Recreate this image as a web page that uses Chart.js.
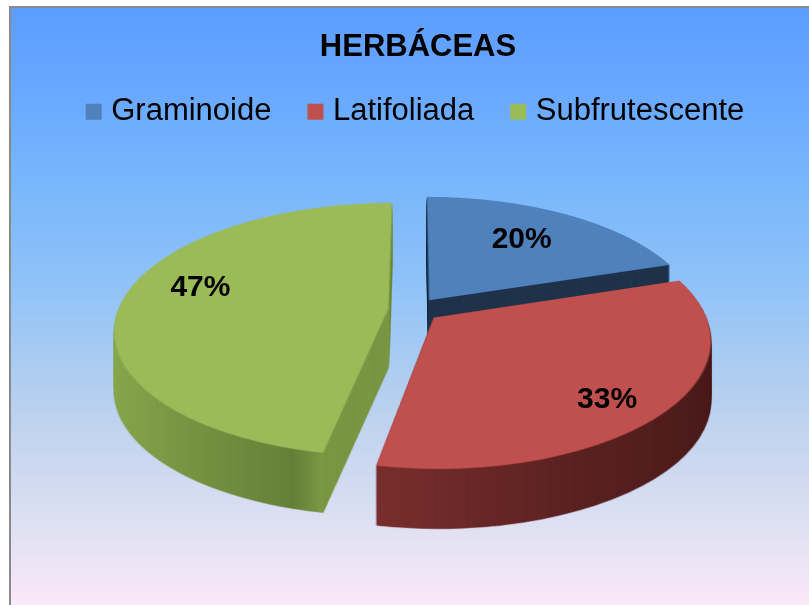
<!DOCTYPE html>
<html lang="pt-BR">
<head>
<meta charset="utf-8">
<title>HERBÁCEAS</title>
<script src="https://cdn.jsdelivr.net/npm/chart.js@4.4.1/dist/chart.umd.min.js"></script>
<style>
    html, body { margin: 0; padding: 0; background: #fff; }
    #wrap { position: relative; width: 809px; height: 605px; }
</style>
</head>
<body>
<div id="wrap"><canvas id="graficoHerbaceas"></canvas></div>
<script>
// Dados
const categorias = ["Graminoide", "Latifoliada", "Subfrutescente"];
const percentuais = [20, 33, 47];

// Estilo
const cores = ["#4f81bd", "#c0504d", "#9bbb59"];
const lateral = [
    [[0, "#1f334b"], [1, "#1f334b"]],
    [[0, "#7a302f"], [0.44, "#7a302f"], [0.72, "#5c2323"], [1, "#4a1c1c"]],
    [[0, "#8cac50"], [0.33, "#66813a"], [0.37, "#7b9846"], [1, "#7b9846"]]
];
const labelRadius = [0.65, 0.8, 0.72];
const labelAjuste = [[0, -2], [-8, 9], [3, -13]];
const ordem = [0, 2, 1];

// perspectiva da pizza 3D
const CX = 414, CY = 310, RX = 270, RY = 123.5, TILT = 0.165, DEPTH = 60, EXPLODE = 0.096;

const fundo = {
    id: "fundo",
    beforeDraw(chart) {
        const ctx = chart.ctx;
        const w = chart.width, h = chart.height;
        ctx.save();
        ctx.fillStyle = "#fff";
        ctx.fillRect(0, 0, w, h);
        ctx.fillStyle = "#8a8a8a";
        ctx.fillRect(9, 6, w - 9, 2);
        ctx.fillRect(9, 6, 2, h - 6);
        const g = ctx.createLinearGradient(0, 8, 0, h);
        g.addColorStop(0, "#5c9cff");
        g.addColorStop(0.16, "#6aaaff");
        g.addColorStop(0.29, "#78b6fb");
        g.addColorStop(0.46, "#8fc2f8");
        g.addColorStop(0.66, "#b8d0ee");
        g.addColorStop(0.89, "#e3e2f3");
        g.addColorStop(1, "#fbe8f8");
        ctx.fillStyle = g;
        ctx.fillRect(11, 8, w - 11, h - 8);
        ctx.restore();
    }
};

const pizza3d = {
    id: "pizza3d",
    beforeDatasetsDraw(chart) {
        const ctx = chart.ctx;
        const arcs = chart.getDatasetMeta(0).data;
        const R = arcs[0].outerRadius;
        const S = Math.ceil(2 * R * (1 + EXPLODE)) + 8;
        const SS = 2;
        const W = chart.width * SS, H = chart.height * SS;

        const plano = document.createElement("canvas");
        plano.width = S; plano.height = S;
        const pc = plano.getContext("2d");
        const tela = document.createElement("canvas");
        tela.width = W; tela.height = H;
        const tc = tela.getContext("2d");

        function desenhaPlano(arc, stops) {
            pc.setTransform(1, 0, 0, 1, 0, 0);
            pc.clearRect(0, 0, S, S);
            const meio = (arc.startAngle + arc.endAngle) / 2;
            pc.translate(S / 2 - arc.x + Math.cos(meio) * EXPLODE * R,
                         S / 2 - arc.y + Math.sin(meio) * EXPLODE * R);
            arc.draw(pc);
            pc.setTransform(1, 0, 0, 1, 0, 0);
            if (stops) {
                const g = pc.createLinearGradient(0, 0, S, 0);
                stops.forEach(s => g.addColorStop(s[0], s[1]));
                pc.globalCompositeOperation = "source-atop";
                pc.fillStyle = g;
                pc.fillRect(0, 0, S, S);
                pc.globalCompositeOperation = "source-over";
            }
        }

        function projeta() {
            tc.clearRect(0, 0, W, H);
            for (let y = 0; y < H; y++) {
                const Y = (y + 0.5) / SS - CY;
                const v = Y / (RY + TILT * Y);
                const sy = S / 2 + v * R;
                if (sy < 0 || sy > S - 1) continue;
                const k = RX / ((1 - TILT * v) * R);
                tc.drawImage(plano, 0, sy, S, 1, (CX - S / 2 * k) * SS, y, S * k * SS, 1);
            }
        }

        ordem.forEach(i => {
            const arc = arcs[i];
            desenhaPlano(arc, lateral[i]);
            projeta();
            for (let d = DEPTH; d >= 1; d--) {
                ctx.drawImage(tela, 0, 0, W, H, 0, d, chart.width, chart.height);
            }
            desenhaPlano(arc, null);
            projeta();
            ctx.drawImage(tela, 0, 0, W, H, 0, 0, chart.width, chart.height);
        });

        // rótulos
        const total = percentuais.reduce((a, b) => a + b, 0);
        ctx.save();
        ctx.font = "bold 30px 'Liberation Sans', Arial, sans-serif";
        ctx.fillStyle = "#000";
        ctx.textAlign = "center";
        ctx.textBaseline = "middle";
        arcs.forEach((arc, i) => {
            const meio = (arc.startAngle + arc.endAngle) / 2;
            const r = EXPLODE + labelRadius[i];
            const u = Math.cos(meio) * r, v = Math.sin(meio) * r;
            const w = 1 - TILT * v;
            ctx.fillText(Math.round(percentuais[i] / total * 100) + "%",
                CX + RX * u / w + labelAjuste[i][0], CY + RY * v / w + labelAjuste[i][1]);
        });
        ctx.restore();
        return false;
    }
};

new Chart(document.getElementById("graficoHerbaceas"), {
    type: "pie",
    data: {
        labels: categorias,
        datasets: [{
            data: percentuais,
            backgroundColor: cores,
            borderWidth: 0,
            offset: 0
        }]
    },
    options: {
        responsive: true,
        maintainAspectRatio: false,
        animation: false,
        layout: { padding: { left: 27 } },
        plugins: {
            title: {
                display: true,
                text: "HERBÁCEAS",
                color: "#000",
                font: { family: "'Liberation Sans', Arial, sans-serif", size: 31, weight: "bold" },
                padding: { top: 29, bottom: -12 }
            },
            legend: {
                position: "top",
                labels: {
                    color: "#000",
                    font: { family: "'Liberation Sans', Arial, sans-serif", size: 31 },
                    usePointStyle: true,
                    pointStyle: "rect",
                    boxWidth: 4,
                    boxHeight: 16,
                    padding: 42
                }
            },
            tooltip: { enabled: false }
        }
    },
    plugins: [fundo, pizza3d]
});
</script>
</body>
</html>
